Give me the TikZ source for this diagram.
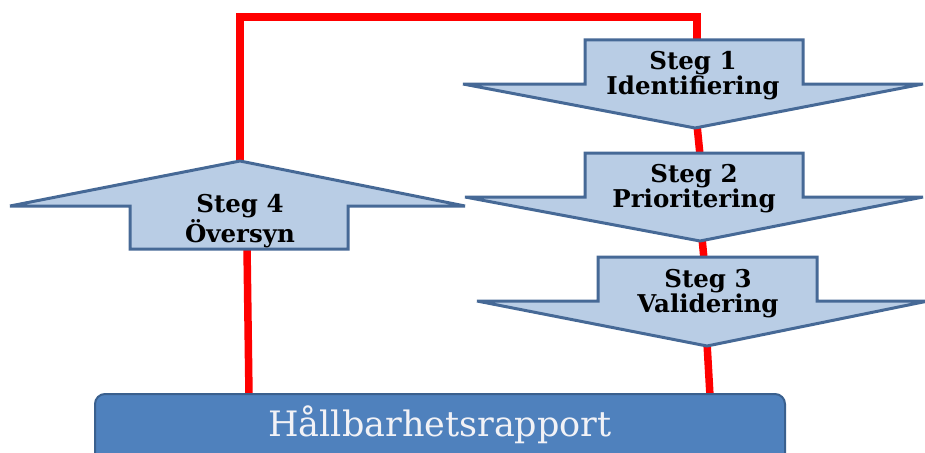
\documentclass[tikz,border=0pt]{standalone}
\usepackage{fontspec}
\setmainfont{DejaVu Serif}
\definecolor{arrowfill}{RGB}{185,205,229}
\definecolor{arrowline}{RGB}{70,105,150}
\definecolor{boxfill}{RGB}{79,129,189}
\definecolor{boxline}{RGB}{58,96,142}
\definecolor{redline}{RGB}{255,0,0}
\definecolor{boxtext}{RGB}{242,242,246}
\begin{document}
\begin{tikzpicture}[x=1pt,y=-1pt,
  steparrow/.style={fill=arrowfill,draw=arrowline,line width=3pt,line join=miter},
  steplabel/.style={align=center,font=\fontsize{24.5}{24}\selectfont\bfseries,text=black,inner sep=0pt},
  redconn/.style={draw=redline,line width=7.5pt},
  rapportbox/.style={fill=boxfill,draw=boxline,line width=2pt,rounded corners=10pt},
  rapportlabel/.style={font=\fontsize{35}{38}\selectfont,text=boxtext,inner sep=0pt}]
\useasboundingbox (0,0) rectangle (925,452);
\clip (0,0) rectangle (925,452);
% key coordinates
\coordinate (topL) at (240,17);
\coordinate (topR) at (697,17);
\coordinate (a1top) at (697,42);
\coordinate (a1tip) at (697,125);
\coordinate (a2top) at (700,155);
\coordinate (a2tip) at (702,238);
\coordinate (a3top) at (704,259);
\coordinate (a3tip) at (707,343);
\coordinate (boxR) at (710,396);
\coordinate (a4tip) at (240,164);
\coordinate (a4bot) at (247,247);
\coordinate (boxL) at (249,396);
% connectors
\draw[redconn] (a4tip) -- (topL) -- (topR) -- (a1top);
\draw[redconn] (a1tip) -- (a2top);
\draw[redconn] (a2tip) -- (a3top);
\draw[redconn] (a3tip) -- (boxR);
\draw[redconn] (a4bot) -- (boxL);
% arrows
\path[steparrow] (585,40) -- (803,40) -- (803,84) -- (923,84) -- (695,128) -- (463,84) -- (585,84) -- cycle;
\path[steparrow] (585,153) -- (803,153) -- (803,197) -- (923,197) -- (700,241) -- (465,197) -- (585,197) -- cycle;
\path[steparrow] (598,257) -- (817,257) -- (817,301) -- (928,301) -- (707,346) -- (477,301) -- (598,301) -- cycle;
\path[steparrow] (130,249) -- (348,249) -- (348,206) -- (465,206) -- (240,161) -- (10,206) -- (130,206) -- cycle;
% labels
\node[steplabel] (s1) at (693,76) {Steg 1\\Identifiering};
\node[steplabel] (s2) at (694,189) {Steg 2\\Prioritering};
\node[steplabel] (s3) at (708,294) {Steg 3\\Validering};
\node[steplabel] (s4) at (240,221) {Steg 4\\Översyn};
% report box
\node[rapportbox,minimum width=690pt,minimum height=90pt] (rapportbox) at (440,439) {};
\node[rapportlabel] (rapport) at (440,425) {Hållbarhetsrapport};
\end{tikzpicture}
\end{document}
